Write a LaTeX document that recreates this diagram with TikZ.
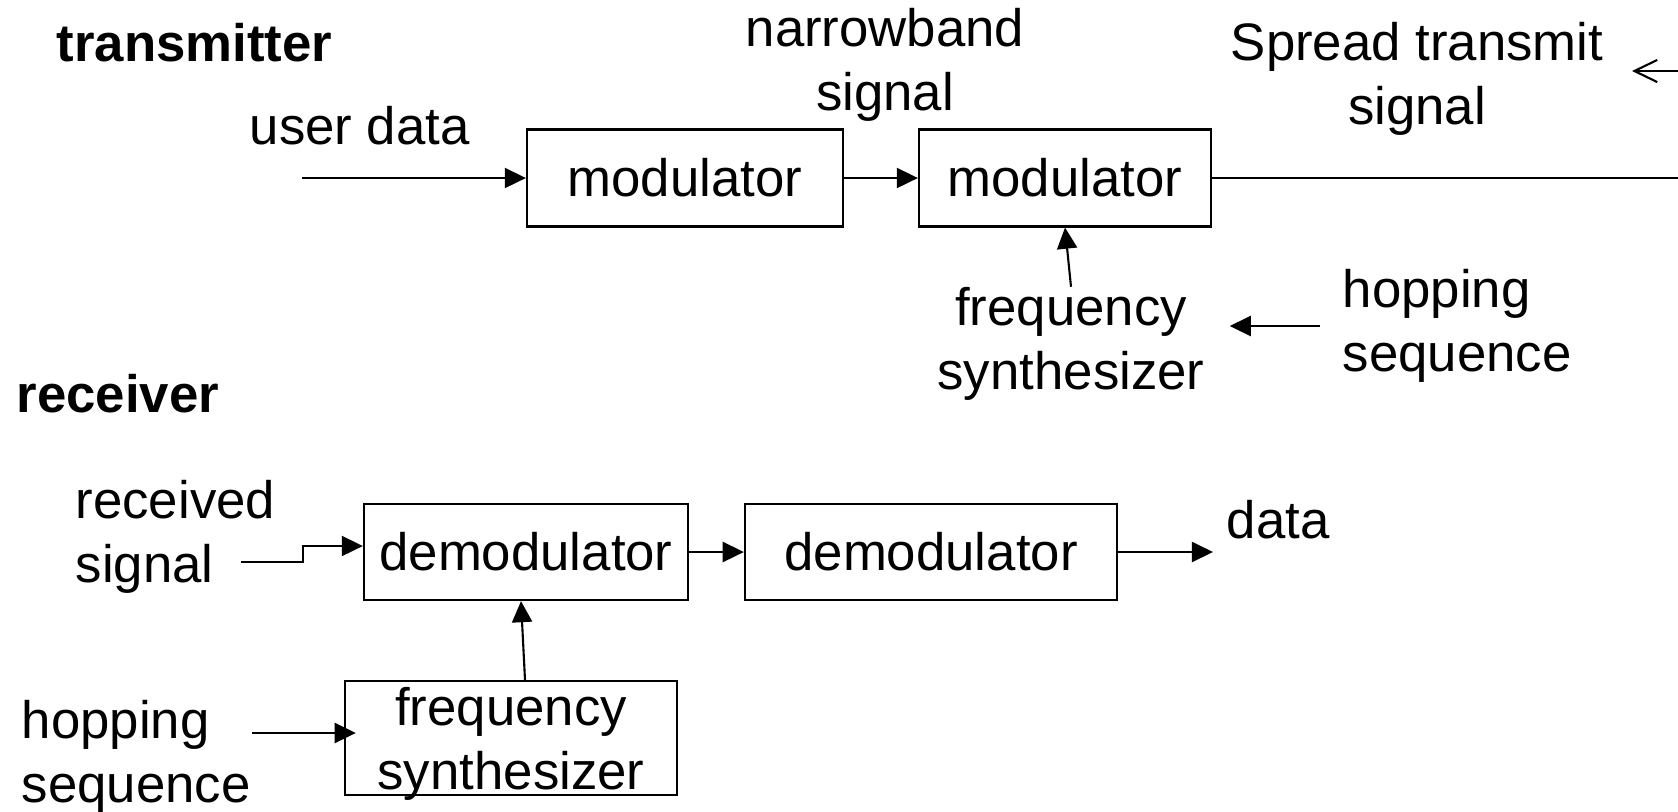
\documentclass[tikz,border=0pt]{standalone}
\usepackage{fontspec}
\setmainfont{Liberation Sans}
\usetikzlibrary{arrows.meta,positioning}

\begin{document}
\begin{tikzpicture}[x=0.01cm,y=-0.01cm,
  txt/.style={inner sep=0pt,font=\fontsize{15}{18.2}\selectfont},
  bold/.style={inner sep=0pt,font=\fontsize{15}{18.2}\selectfont\bfseries},
  box/.style={draw,line width=0.6pt,inner sep=0pt,font=\fontsize{15}{18.2}\selectfont,align=center},
  arr/.style={line width=0.6pt,-{Triangle[length=6pt,width=5.7pt]}},
  barb/.style={line width=0.6pt,-{Straight Barb[length=6.5pt,width=6.3pt]}}]

\useasboundingbox (0,0) rectangle (1678,811);

\node[bold,anchor=west] (0) at (56,43){transmitter};
\node[txt,anchor=west] (1) at (249,126){user data};
\node[box,minimum width=3.16cm,minimum height=0.97cm] (2) at (685,178){modulator};
\node[box,minimum width=2.92cm,minimum height=0.97cm] (3) at (1065,178){modulator};
\node[txt,align=center] (4) at (885,65){narrowband\\signal};
\node[txt,align=center] (5) at (1071,344){frequency\\synthesizer};
\node[txt,align=left,anchor=west] (6) at (1342,326){hopping\\sequence};
\node[txt,align=center] (7) at (1417,79){Spread transmit\\signal};
\coordinate (a) at (302,178);
\coordinate (b) at (1678,178);
\coordinate (c) at (1678,71);
\coordinate (d) at (1632,71);
\draw[arr] (a) -- (2);
\draw[arr] (2) -- (3);
\draw[line width=0.6pt] (3) -- (b);
\draw[barb] (c) -- (d);
\draw[arr] (5.north) -- (3.south);
\draw[arr,shorten <=6.3pt,shorten >=7pt] (6.west) -- (5.east |- 6.west);

\node[bold,anchor=west] (8) at (16,394){receiver};
\node[txt,align=left,anchor=west] (9) at (75,537){received\\signal};
\node[box,minimum width=3.24cm,minimum height=0.96cm] (10) at (526,552){demodulator};
\node[box,minimum width=3.72cm,minimum height=0.96cm] (11) at (931,552){demodulator};
\node[txt,anchor=west] (12) at (1226,520){data};
\node[box,minimum width=3.32cm,minimum height=1.14cm,text depth=0pt] (13) at (511,738){frequency\\synthesizer};
\node[txt,align=left,anchor=west] (14) at (21,757){hopping\\sequence};
\coordinate (e) at (241,562);
\coordinate (f) at (303,546);
\coordinate (g) at (1213,552);
\coordinate (h) at (252,733);
\draw[arr] (e) -| (f) -- (10.west |- f);
\draw[arr] (10) -- (11);
\draw[arr] (11) -- (g);
\draw[arr] (13.north -| 525,0) -- (10.south -| 521,0);
\draw[arr,shorten >=-3.4pt] (h) -- (13.west |- h);

\end{tikzpicture}
\end{document}
